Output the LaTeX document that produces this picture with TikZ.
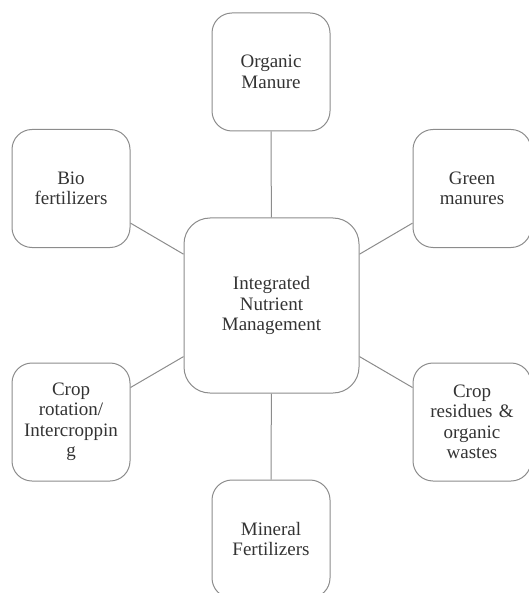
\documentclass[tikz,border=0pt]{standalone}
\usepackage{fontspec}
\setmainfont{Liberation Serif}
\begin{document}
\begin{tikzpicture}[x=1pt,y=-1pt,
  outerbox/.style={draw=black!45, line width=1pt, rounded corners=20pt, minimum width=118pt, minimum height=118pt, inner sep=0pt, text width=110pt, align=center, text=black!80, font=\fontsize{19}{20.5}\selectfont},
  centerbox/.style={outerbox, rounded corners=26pt, minimum width=175pt, minimum height=175pt, text width=160pt},
  link/.style={draw=black!45, line width=1pt}]
\useasboundingbox (0,0) rectangle (528,593);
\node[centerbox] (c) at (271.5,305.5) {Integrated\\Nutrient\\Management};
\node[outerbox] (om) at (271,72) {Organic\\Manure};
\node[outerbox] (bio) at (71,188.5) {Bio\\fertilizers};
\node[outerbox] (gm) at (472,188.5) {Green\\manures};
\node[outerbox] (cr) at (71,422) {Crop\\rotation/\\Intercroppin\\g};
\node[outerbox] (res) at (472,422) {Crop\\residues \&\\organic\\wastes};
\node[outerbox] (mf) at (271,539) {Mineral\\Fertilizers};
\draw[link] (c) -- (om);
\draw[link] (c) -- (bio);
\draw[link] (c) -- (gm);
\draw[link] (c) -- (cr);
\draw[link] (c) -- (res);
\draw[link] (c) -- (mf);
\end{tikzpicture}
\end{document}
